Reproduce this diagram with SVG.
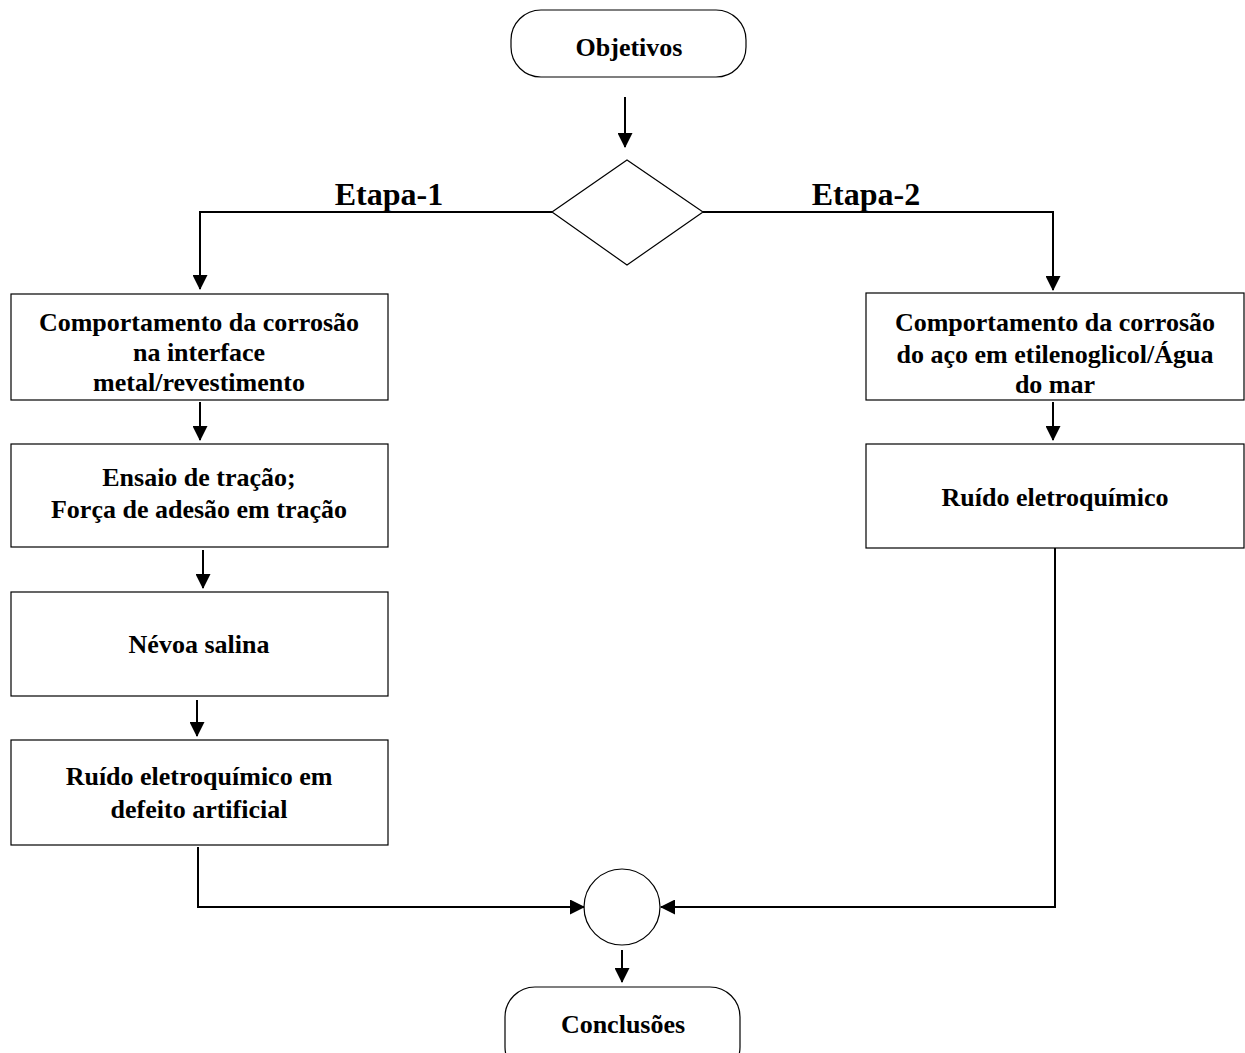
<svg xmlns="http://www.w3.org/2000/svg" width="1245" height="1053" viewBox="0 0 1245 1053">
<style>
.box{fill:#fff;stroke:#000;stroke-width:1.2}
.t{font-family:"Liberation Serif","Times New Roman",serif;font-weight:bold;font-size:26px;fill:#000;text-anchor:middle}
.et{font-size:32px}
.c{fill:none;stroke:#000;stroke-width:2}
</style>
<defs>
<marker id="ah" markerWidth="15" markerHeight="15" refX="14" refY="7.5" orient="auto" markerUnits="userSpaceOnUse" viewBox="0 0 15 15">
<path d="M0,0 L15,7.5 L0,15 Z" fill="#000"/>
</marker>
</defs>
<rect width="1245" height="1053" fill="#fff"/>
<g id="objetivos"><rect class="box" x="511" y="10" width="235" height="67" rx="30" ry="30" stroke-width="2"/><text class="t" x="629" y="56">Objetivos</text></g>
<g id="decisao"><polygon class="box" points="552,212 627,160 703,212 627,265"/></g>
<g id="etapa1"><text class="t et" x="389" y="205">Etapa-1</text></g>
<g id="etapa2"><text class="t et" x="866" y="205">Etapa-2</text></g>
<g id="b1"><rect class="box" x="11" y="294" width="377" height="106"/><text class="t" x="199" y="331">Comportamento da corrosão</text><text class="t" x="199" y="361">na interface</text><text class="t" x="199" y="391">metal/revestimento</text></g>
<g id="b2"><rect class="box" x="11" y="444" width="377" height="103"/><text class="t" x="199" y="486">Ensaio de tração;</text><text class="t" x="199" y="518">Força de adesão em tração</text></g>
<g id="b3"><rect class="box" x="11" y="592" width="377" height="104"/><text class="t" x="199" y="653">Névoa salina</text></g>
<g id="b4"><rect class="box" x="11" y="740" width="377" height="105"/><text class="t" x="199" y="785">Ruído eletroquímico em</text><text class="t" x="199" y="818">defeito artificial</text></g>
<g id="r1"><rect class="box" x="866" y="293" width="378" height="107"/><text class="t" x="1055" y="331">Comportamento da corrosão</text><text class="t" x="1055" y="363">do aço em etilenoglicol/Água</text><text class="t" x="1055" y="393">do mar</text></g>
<g id="r2"><rect class="box" x="866" y="444" width="378" height="104"/><text class="t" x="1055" y="506">Ruído eletroquímico</text></g>
<g id="juncao"><circle class="box" cx="622" cy="907" r="38"/></g>
<g id="conclusoes"><rect class="box" x="505" y="987" width="235" height="90" rx="30" ry="30" stroke-width="2"/><text class="t" x="623" y="1033">Conclusões</text></g>
<g id="connectors">
<line class="c" x1="625" y1="97" x2="625" y2="147" marker-end="url(#ah)"/>
<polyline class="c" points="552,212 200,212 200,289" marker-end="url(#ah)"/>
<polyline class="c" points="703,212 1053,212 1053,290" marker-end="url(#ah)"/>
<line class="c" x1="200" y1="402" x2="200" y2="440" marker-end="url(#ah)"/>
<line class="c" x1="203" y1="550" x2="203" y2="588" marker-end="url(#ah)"/>
<line class="c" x1="197" y1="700" x2="197" y2="736" marker-end="url(#ah)"/>
<polyline class="c" points="198,847 198,907 584,907" marker-end="url(#ah)"/>
<polyline class="c" points="1055,548 1055,907 661,907" marker-end="url(#ah)"/>
<line class="c" x1="1053" y1="402" x2="1053" y2="440" marker-end="url(#ah)"/>
<line class="c" x1="622" y1="950" x2="622" y2="982" marker-end="url(#ah)"/>
</g>
</svg>
